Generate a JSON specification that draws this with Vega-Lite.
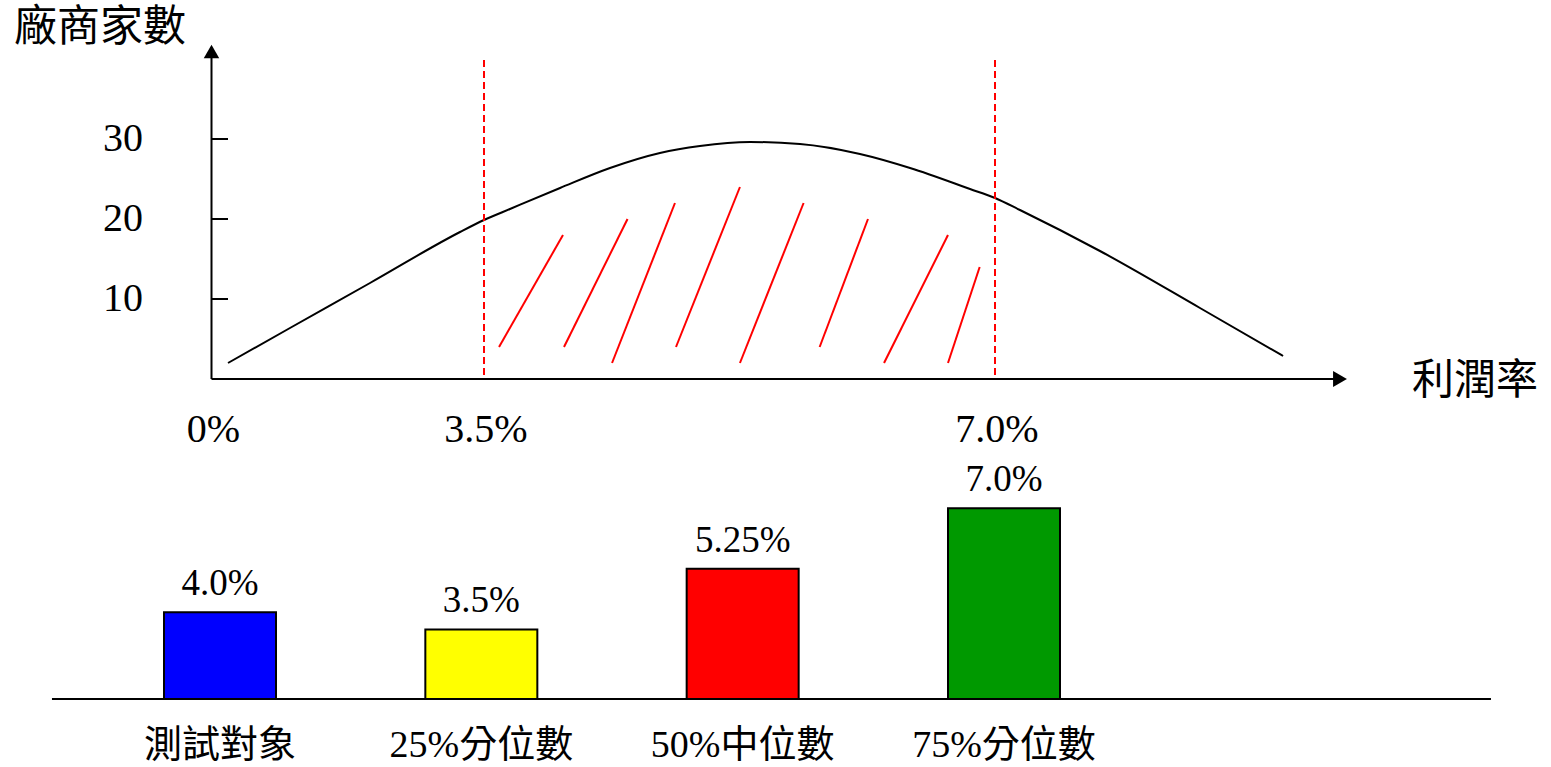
{
  "$schema": "https://vega.github.io/schema/vega-lite/v6.json",
  "width": 1551,
  "height": 767,
  "autosize": {"type": "fit", "contains": "padding"},
  "padding": 0,
  "background": "white",
  "config": {
    "view": {"stroke": null},
    "text": {"font": "Liberation Serif, Noto Sans CJK TC", "color": "black"}
  },
  "datasets": {
    "curve": [
      {"rate": 0.212, "count": 2.0},
      {"rate": 1.008, "count": 6.375},
      {"rate": 2.036, "count": 12.0},
      {"rate": 3.192, "count": 18.375},
      {"rate": 3.5, "count": 19.875},
      {"rate": 3.678, "count": 21.25},
      {"rate": 4.021, "count": 23.875},
      {"rate": 4.363, "count": 26.375},
      {"rate": 4.705, "count": 28.25},
      {"rate": 4.979, "count": 29.125},
      {"rate": 5.322, "count": 29.625},
      {"rate": 5.664, "count": 29.375},
      {"rate": 6.075, "count": 28.125},
      {"rate": 6.418, "count": 26.375},
      {"rate": 6.829, "count": 23.75},
      {"rate": 7.0, "count": 22.625},
      {"rate": 7.171, "count": 21.125},
      {"rate": 7.719, "count": 16.0},
      {"rate": 8.404, "count": 8.875},
      {"rate": 8.973, "count": 2.875}
    ],
    "hatch": [
      {"x1": 3.603, "y1": 4, "x2": 4.041, "y2": 18},
      {"x1": 4.048, "y1": 4, "x2": 4.483, "y2": 20},
      {"x1": 4.377, "y1": 2, "x2": 4.808, "y2": 22},
      {"x1": 4.815, "y1": 4, "x2": 5.253, "y2": 24},
      {"x1": 5.253, "y1": 2, "x2": 5.689, "y2": 22},
      {"x1": 5.799, "y1": 4, "x2": 6.130, "y2": 20},
      {"x1": 6.240, "y1": 2, "x2": 6.678, "y2": 18},
      {"x1": 6.678, "y1": 2, "x2": 6.895, "y2": 14}
    ],
    "yticks": [{"count": 10}, {"count": 20}, {"count": 30}],
    "quartiles": [{"rate": 3.5}, {"rate": 7.0}],
    "xlabels": [
      {"rate": 0, "label": "0%"},
      {"rate": 3.5, "label": "3.5%"},
      {"rate": 7.0, "label": "7.0%"}
    ],
    "bars": [
      {"item": "測試對象", "value": 4.0, "label": "4.0%"},
      {"item": "25%分位數", "value": 3.5, "label": "3.5%"},
      {"item": "50%中位數", "value": 5.25, "label": "5.25%"},
      {"item": "75%分位數", "value": 7.0, "label": "7.0%"}
    ],
    "one": [{}]
  },
  "layer": [
    {
      "layer": [
        {
          "data": {"name": "curve"},
          "mark": {"type": "line", "color": "black", "strokeWidth": 2, "interpolate": "monotone"},
          "encoding": {
            "x": {"field": "rate", "type": "quantitative", "axis": null,
                  "scale": {"type": "linear", "domain": [0, 3.5, 7, 11], "range": [211.5, 484, 995, 1579], "nice": false, "zero": false}},
            "y": {"field": "count", "type": "quantitative", "axis": null,
                  "scale": {"domain": [-48.5, 47.375], "nice": false, "zero": false}}
          }
        },
        {
          "data": {"name": "hatch"},
          "mark": {"type": "rule", "color": "#FF0000", "strokeWidth": 2},
          "encoding": {
            "x": {"field": "x1", "type": "quantitative"},
            "x2": {"field": "x2"},
            "y": {"field": "y1", "type": "quantitative"},
            "y2": {"field": "y2"}
          }
        },
        {
          "data": {"name": "quartiles"},
          "mark": {"type": "rule", "color": "#FF0000", "strokeWidth": 2, "strokeDash": [7, 4]},
          "encoding": {
            "x": {"field": "rate", "type": "quantitative"},
            "y": {"datum": 0.5, "type": "quantitative"},
            "y2": {"datum": 40.1}
          }
        },
        {
          "data": {"name": "one"},
          "mark": {"type": "rule", "color": "black", "strokeWidth": 2},
          "encoding": {
            "x": {"datum": 0, "type": "quantitative"},
            "y": {"datum": 0, "type": "quantitative"},
            "y2": {"datum": 40.9}
          }
        },
        {
          "data": {"name": "one"},
          "mark": {"type": "rule", "color": "black", "strokeWidth": 2},
          "encoding": {
            "x": {"datum": 0, "type": "quantitative"},
            "x2": {"datum": 9.36},
            "y": {"datum": 0, "type": "quantitative"}
          }
        },
        {
          "data": {"name": "one"},
          "mark": {"type": "point", "shape": "triangle-up", "filled": true, "color": "black", "opacity": 1, "size": 240},
          "encoding": {
            "x": {"datum": 0, "type": "quantitative"},
            "y": {"datum": 40.94, "type": "quantitative"}
          }
        },
        {
          "data": {"name": "one"},
          "mark": {"type": "point", "shape": "triangle-right", "filled": true, "color": "black", "opacity": 1, "size": 256},
          "encoding": {
            "x": {"datum": 9.363, "type": "quantitative"},
            "y": {"datum": 0, "type": "quantitative"}
          }
        },
        {
          "data": {"name": "yticks"},
          "mark": {"type": "rule", "color": "black", "strokeWidth": 2},
          "encoding": {
            "x": {"datum": 0, "type": "quantitative"},
            "x2": {"datum": 0.212},
            "y": {"field": "count", "type": "quantitative"}
          }
        },
        {
          "data": {"name": "yticks"},
          "mark": {"type": "text", "align": "right", "baseline": "middle", "fontSize": 40},
          "encoding": {
            "x": {"datum": -0.88, "type": "quantitative"},
            "y": {"field": "count", "type": "quantitative"},
            "text": {"field": "count"}
          }
        },
        {
          "data": {"name": "xlabels"},
          "mark": {"type": "text", "align": "center", "baseline": "alphabetic", "fontSize": 40, "dx": 2},
          "encoding": {
            "x": {"field": "rate", "type": "quantitative"},
            "y": {"datum": -7.875, "type": "quantitative"},
            "text": {"field": "label"}
          }
        },
        {
          "data": {"name": "one"},
          "mark": {"type": "text", "align": "left", "baseline": "middle", "fontSize": 43, "text": "廠商家數"},
          "encoding": {
            "x": {"datum": -2.537, "type": "quantitative"},
            "y": {"datum": 43.875, "type": "quantitative"}
          }
        },
        {
          "data": {"name": "one"},
          "mark": {"type": "text", "align": "center", "baseline": "middle", "fontSize": 42, "text": "利潤率"},
          "encoding": {
            "x": {"datum": 10.288, "type": "quantitative"},
            "y": {"datum": -0.25, "type": "quantitative"}
          }
        },
        {
          "data": {"name": "one"},
          "mark": {"type": "rule", "color": "black", "strokeWidth": 2},
          "encoding": {
            "x": {"datum": -2.049, "type": "quantitative"},
            "x2": {"datum": 10.397},
            "y": {"datum": -40, "type": "quantitative"}
          }
        }
      ]
    },
    {
      "data": {"name": "bars"},
      "encoding": {
        "x": {"field": "item", "type": "nominal", "sort": null, "axis": null,
              "scale": {"range": [164, 1060], "paddingInner": 0.57143, "paddingOuter": 0}}
      },
      "layer": [
        {
          "mark": {"type": "bar", "stroke": "black", "strokeWidth": 2},
          "encoding": {
            "y": {"field": "value", "type": "quantitative", "axis": null,
                  "scale": {"domain": [-0.475, 21.687], "nice": false, "zero": false}},
            "y2": {"datum": 1.49},
            "color": {"field": "item", "type": "nominal", "legend": null, "sort": null,
                      "scale": {"domain": ["測試對象", "25%分位數", "50%中位數", "75%分位數"],
                                "range": ["#0000FF", "#FFFF00", "#FF0000", "#009900"]}}
          }
        },
        {
          "mark": {"type": "text", "align": "center", "baseline": "alphabetic", "fontSize": 37, "dy": -17},
          "encoding": {
            "y": {"field": "value", "type": "quantitative"},
            "text": {"field": "label"}
          }
        },
        {
          "mark": {"type": "text", "align": "center", "baseline": "middle", "fontSize": 38, "dy": 47},
          "encoding": {
            "y": {"datum": 1.49, "type": "quantitative"},
            "text": {"field": "item"}
          }
        }
      ]
    }
  ],
  "resolve": {"scale": {"x": "independent", "y": "independent"}}
}
